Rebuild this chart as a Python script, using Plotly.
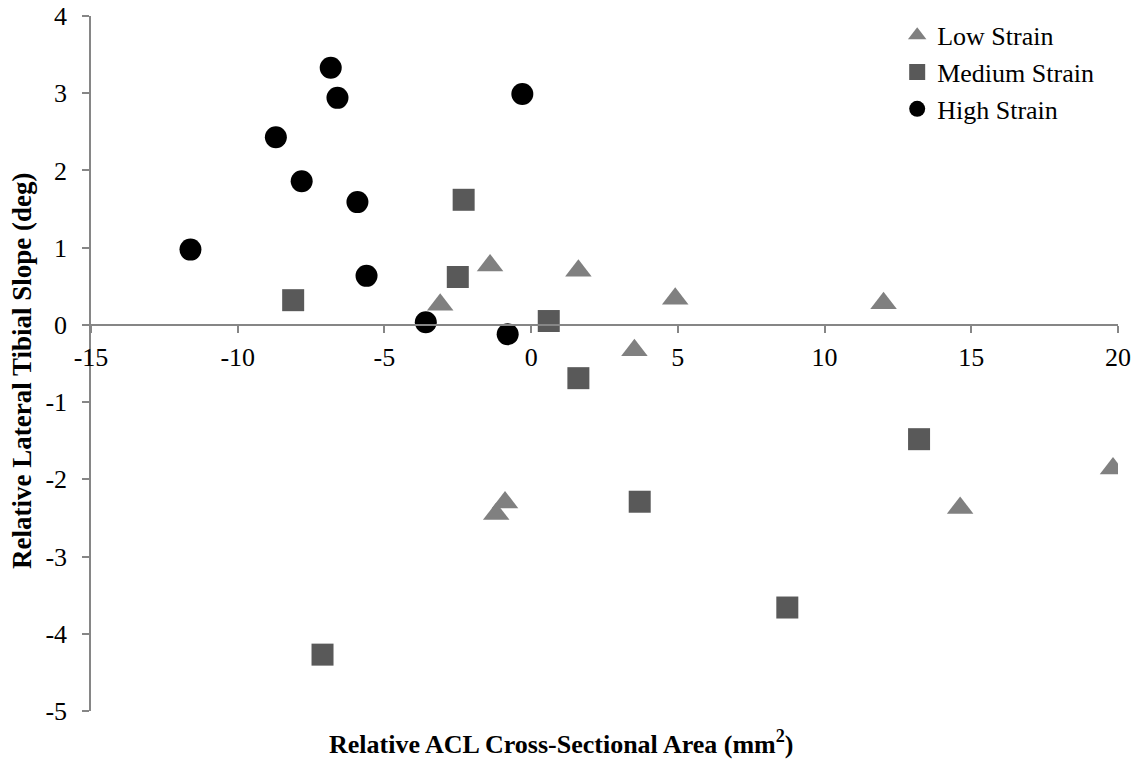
import plotly.graph_objects as go

# Relative ACL cross-sectional area (mm^2) vs relative lateral tibial slope (deg)
low_x = [-3.10, -1.40, 1.61, 4.91, 3.52, 12.01, 14.62, 19.83, -0.89, -1.19]
low_y = [0.26, 0.77, 0.70, 0.34, -0.33, 0.28, -2.37, -1.86, -2.30, -2.45]

med_x = [-8.11, -2.30, -2.50, 0.60, 1.61, 3.70, -7.11, 8.73, 13.22]
med_y = [0.32, 1.62, 0.62, 0.05, -0.69, -2.29, -4.27, -3.66, -1.48]

high_x = [-11.61, -8.70, -6.83, -6.60, -7.82, -5.92, -5.61, -3.59, -0.80, -0.30]
high_y = [0.975, 2.43, 3.33, 2.94, 1.86, 1.59, 0.635, 0.035, -0.12, 2.99]

x_ticks = [-15, -10, -5, 0, 5, 10, 15, 20]
y_ticks = [-5, -4, -3, -2, -1, 0, 1, 2, 3, 4]

FONT = "Liberation Serif"
AXIS_GRAY = "#868686"

fig = go.Figure()
fig.add_trace(go.Scatter(
    x=low_x, y=low_y, mode="markers", name="Low Strain",
    marker=dict(symbol="triangle-up", size=23, color="#808080", line=dict(width=0)),
))
fig.add_trace(go.Scatter(
    x=med_x, y=med_y, mode="markers", name="Medium Strain",
    marker=dict(symbol="square", size=22, color="#595959", line=dict(width=0)),
))
fig.add_trace(go.Scatter(
    x=high_x, y=high_y, mode="markers", name="High Strain",
    marker=dict(symbol="circle", size=22, color="#000000", line=dict(width=0)),
))

y_min, y_max = -5, 4
fig.update_layout(
    width=1142, height=771,
    margin=dict(l=91, r=24, t=16, b=60),
    paper_bgcolor="white", plot_bgcolor="white",
    font=dict(family=FONT, size=26, color="#000000"),
    showlegend=True,
    legend=dict(
        x=0.785, y=1.006, xanchor="left", yanchor="top",
        bgcolor="rgba(0,0,0,0)", font=dict(family=FONT, size=26),
        tracegroupgap=0, itemwidth=30,
    ),
    xaxis=dict(
        range=[-15, 20], tickvals=x_ticks, ticktext=[str(v) for v in x_ticks],
        showgrid=False, zeroline=False, automargin=False,
        showline=True, linecolor=AXIS_GRAY, linewidth=1.5,
        ticks="outside", ticklen=7, tickcolor=AXIS_GRAY, tickwidth=1.5,
        anchor="free", position=(0 - y_min) / (y_max - y_min),
        tickfont=dict(family=FONT, size=26), ticklabelstandoff=2,
    ),
    yaxis=dict(
        range=[y_min, y_max], tickvals=y_ticks, ticktext=[str(v) for v in y_ticks],
        showgrid=False, zeroline=False, automargin=False,
        showline=True, linecolor=AXIS_GRAY, linewidth=1.5,
        ticks="outside", ticklen=7, tickcolor=AXIS_GRAY, tickwidth=1.5,
        tickfont=dict(family=FONT, size=26), ticklabelstandoff=10,
    ),
    annotations=[
        dict(
            text="<b>Relative ACL Cross-Sectional Area (mm<sup>2</sup>)</b>",
            xref="paper", yref="paper",
            x=(561 - 91) / (1118 - 91), y=-(742 - 711) / 695,
            xanchor="center", yanchor="middle", showarrow=False,
            font=dict(family=FONT, size=26),
        ),
        dict(
            text="<b>Relative Lateral Tibial Slope (deg)</b>",
            xref="paper", yref="paper",
            x=-(91 - 22) / (1118 - 91), y=(711 - 371) / 695,
            xanchor="center", yanchor="middle", textangle=-90, showarrow=False,
            font=dict(family=FONT, size=27),
        ),
    ],
)

fig.write_html("out.html")
